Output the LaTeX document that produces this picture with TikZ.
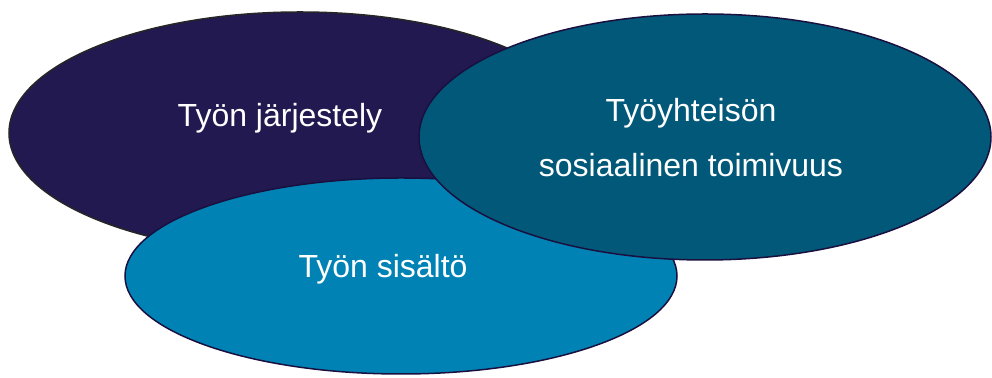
\documentclass[tikz,border=0pt]{standalone}
\usepackage{fontspec}
\setmainfont{Liberation Sans}
\usepackage{tikz}
\usetikzlibrary{shapes.geometric,positioning}
\definecolor{navy}{HTML}{21194F}
\definecolor{sea}{HTML}{0083B4}
\definecolor{petrol}{HTML}{025878}
\definecolor{rim}{HTML}{1A1040}

\begin{document}
\begin{tikzpicture}[x=0.5pt,y=-0.5pt,
  blob/.style={ellipse,draw=rim,line width=0.75pt,inner sep=0pt},
  lbl/.style={text=white,anchor=base,font=\fontsize{16}{19}\selectfont}]
\useasboundingbox (0,0) rectangle (992,378);
\node[blob,fill=navy,draw=black!85,minimum width=291pt,minimum height=121pt](org) at (300,133){};
\node[blob,fill=sea,minimum width=276pt,minimum height=98pt](cont) at (401,276){};
\node[blob,fill=petrol,minimum width=286pt,minimum height=123pt](soc) at (705,137){};
\node[lbl](orgtxt) at (280,127){Työn järjestely};
\node[lbl](conttxt) at (383,278){Työn sisältö};
\node[lbl](soctxt1) at (691,122){Työyhteisön};
\node[lbl](soctxt2) at (691,177){sosiaalinen toimivuus};
\end{tikzpicture}
\end{document}
